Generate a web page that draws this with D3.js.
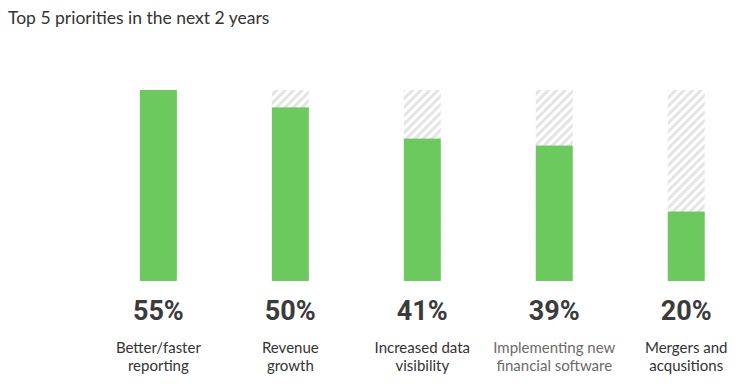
<!DOCTYPE html>
<html lang="en">
<head>
    <meta charset="UTF-8">
    <title>Top 5 priorities in the next 2 years</title>
    <script src="https://d3js.org/d3.v7.min.js"></script>
    <style>
        body {
            margin: 0;
            background: #ffffff;
        }
        .label {
            font-family: Lato, "Open Sans", sans-serif;
            font-size: 15px;
        }
    </style>
</head>
<body>
<main></main>
<script>

    var categories = ['Better/faster reporting', 'Revenue growth', 'Increased data visibility', 'Implementing new financial software', 'Mergers and acqusitions'];
    var labelLines = [['Better/faster', 'reporting'], ['Revenue', 'growth'], ['Increased data', 'visibility'], ['Implementing new', 'financial software'], ['Mergers and', 'acqusitions']];
    var values = [55, 50, 41, 39, 20];
    var maxValue = 55;

    var w = 735, h = 385;

    var svg = d3.select('main')
                .append('svg')
                .attr('width', w)
                .attr('height', h);

    // hatch for the unfilled part of each bar
    var pattern = svg.append('defs')
        .append('pattern')
        .attr('id', 'hatch')
        .attr('patternUnits', 'userSpaceOnUse')
        .attr('width', 6)
        .attr('height', 6)
        .attr('patternTransform', 'rotate(45)');
    pattern.append('rect')
        .attr('width', 6)
        .attr('height', 6)
        .style('fill', '#ffffff');
    pattern.append('rect')
        .attr('width', 3)
        .attr('height', 6)
        .style('fill', '#e4e4e4');

    svg.append('text')
        .attr('x', 8)
        .attr('y', 24)
        .text('Top 5 priorities in the next 2 years')
        .style('font-family', 'Lato, sans-serif')
        .style('font-size', '17.5px')
        .style('fill', '#333333');

    var x = d3.scaleBand()
        .domain(categories)
        .range([92.4, 752.2])
        .paddingInner(0.72)
        .paddingOuter(0.36);

    var y = d3.scaleLinear()
        .domain([0, maxValue])
        .range([281, 90]);

    var groups = svg.append('g')
        .selectAll('g')
        .data(categories)
        .enter()
        .append('g');

    groups.append('rect')
        .attr('x', function(d){ return x(d); })
        .attr('y', y(maxValue))
        .attr('width', x.bandwidth())
        .attr('height', y(0) - y(maxValue))
        .style('fill', 'url(#hatch)');

    groups.append('rect')
        .attr('x', function(d){ return x(d); })
        .attr('y', function(d, i){ return y(values[i]); })
        .attr('width', x.bandwidth())
        .attr('height', function(d, i){ return y(0) - y(values[i]); })
        .style('fill', '#6cc95e');

    groups.append('text')
        .attr('x', function(d){ return x(d) + x.bandwidth() / 2; })
        .attr('y', 320)
        .attr('text-anchor', 'middle')
        .text(function(d, i){ return values[i] + '%'; })
        .style('font-family', 'Roboto, sans-serif')
        .style('font-weight', 'bold')
        .style('font-size', '27px')
        .style('fill', '#3b3b3b');

    groups.each(function(d, i){
        var g = d3.select(this);
        labelLines[i].forEach(function(line, j){
            g.append('text')
                .attr('class', 'label')
                .attr('x', x(d) + x.bandwidth() / 2)
                .attr('y', 353 + j * 18)
                .attr('text-anchor', 'middle')
                .text(line)
                .style('fill', i === 3 ? '#6b6b6b' : '#333333');
        });
    });

</script>
</body>
</html>
